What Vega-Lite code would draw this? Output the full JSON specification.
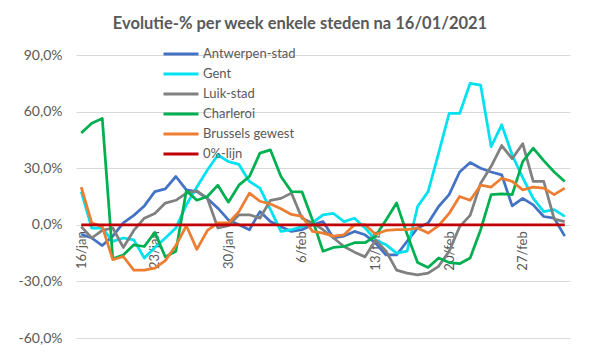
{
  "$schema": "https://vega.github.io/schema/vega-lite/v6.json",
  "width": 494,
  "height": 283,
  "autosize": {"type": "none"},
  "padding": {"left": 76, "top": 55, "right": 29, "bottom": 21},
  "background": "white",
  "title": {
    "text": "Evolutie-% per week enkele steden na 16/01/2021",
    "font": "Lato",
    "fontSize": 16.5,
    "fontWeight": "bold",
    "color": "#595959",
    "anchor": "middle",
    "dx": -23,
    "offset": 12
  },
  "data": {
    "values": [
      {"d": "2021-01-16", "Antwerpen-stad": -5, "Gent": 17.6, "Luik-stad": -1, "Charleroi": 48.7, "Brussels gewest": 20, "0%-lijn": 0},
      {"d": "2021-01-17", "Antwerpen-stad": -7, "Gent": -1.7, "Luik-stad": -7, "Charleroi": 53.8, "Brussels gewest": 1, "0%-lijn": 0},
      {"d": "2021-01-18", "Antwerpen-stad": -11, "Gent": -1.7, "Luik-stad": -3, "Charleroi": 56.4, "Brussels gewest": -1, "0%-lijn": 0},
      {"d": "2021-01-19", "Antwerpen-stad": -6, "Gent": -8.8, "Luik-stad": -1.7, "Charleroi": -18, "Brussels gewest": -18.5, "0%-lijn": 0},
      {"d": "2021-01-20", "Antwerpen-stad": 1, "Gent": -7, "Luik-stad": -12, "Charleroi": -16, "Brussels gewest": -16.8, "0%-lijn": 0},
      {"d": "2021-01-21", "Antwerpen-stad": 5, "Gent": -8, "Luik-stad": -3, "Charleroi": -10.6, "Brussels gewest": -24, "0%-lijn": 0},
      {"d": "2021-01-22", "Antwerpen-stad": 10, "Gent": -17.6, "Luik-stad": 3.5, "Charleroi": -11.5, "Brussels gewest": -24, "0%-lijn": 0},
      {"d": "2021-01-23", "Antwerpen-stad": 17.6, "Gent": -12, "Luik-stad": 6, "Charleroi": -4, "Brussels gewest": -23, "0%-lijn": 0},
      {"d": "2021-01-24", "Antwerpen-stad": 19, "Gent": -7, "Luik-stad": 11.5, "Charleroi": -17, "Brussels gewest": -19, "0%-lijn": 0},
      {"d": "2021-01-25", "Antwerpen-stad": 25.6, "Gent": -1.7, "Luik-stad": 13, "Charleroi": -14, "Brussels gewest": -11, "0%-lijn": 0},
      {"d": "2021-01-26", "Antwerpen-stad": 18.5, "Gent": 10.6, "Luik-stad": 16.8, "Charleroi": 18, "Brussels gewest": -0.5, "0%-lijn": 0},
      {"d": "2021-01-27", "Antwerpen-stad": 17.6, "Gent": 20, "Luik-stad": 18, "Charleroi": 13, "Brussels gewest": -13, "0%-lijn": 0},
      {"d": "2021-01-28", "Antwerpen-stad": 14, "Gent": 29, "Luik-stad": 14, "Charleroi": 15, "Brussels gewest": -3, "0%-lijn": 0},
      {"d": "2021-01-29", "Antwerpen-stad": 8.8, "Gent": 37, "Luik-stad": -1.7, "Charleroi": 21, "Brussels gewest": 1, "0%-lijn": 0},
      {"d": "2021-01-30", "Antwerpen-stad": 2.6, "Gent": 33.5, "Luik-stad": -0.5, "Charleroi": 12, "Brussels gewest": 1, "0%-lijn": 0},
      {"d": "2021-01-31", "Antwerpen-stad": 0, "Gent": 32, "Luik-stad": 5.3, "Charleroi": 21, "Brussels gewest": 7, "0%-lijn": 0},
      {"d": "2021-02-01", "Antwerpen-stad": -2.6, "Gent": 23, "Luik-stad": 5.3, "Charleroi": 25.6, "Brussels gewest": 16.8, "0%-lijn": 0},
      {"d": "2021-02-02", "Antwerpen-stad": 7, "Gent": 19.4, "Luik-stad": 3.5, "Charleroi": 38, "Brussels gewest": 12.5, "0%-lijn": 0},
      {"d": "2021-02-03", "Antwerpen-stad": 1.7, "Gent": 8, "Luik-stad": 13, "Charleroi": 39.7, "Brussels gewest": 11, "0%-lijn": 0},
      {"d": "2021-02-04", "Antwerpen-stad": -1, "Gent": -3.5, "Luik-stad": 14, "Charleroi": 25.6, "Brussels gewest": 8.5, "0%-lijn": 0},
      {"d": "2021-02-05", "Antwerpen-stad": -3.5, "Gent": -2.6, "Luik-stad": 16.8, "Charleroi": 17.6, "Brussels gewest": 5.5, "0%-lijn": 0},
      {"d": "2021-02-06", "Antwerpen-stad": -2.6, "Gent": -1, "Luik-stad": 3.5, "Charleroi": 17.5, "Brussels gewest": 4.5, "0%-lijn": 0},
      {"d": "2021-02-07", "Antwerpen-stad": 0, "Gent": 1, "Luik-stad": 1, "Charleroi": 2.6, "Brussels gewest": -3.5, "0%-lijn": 0},
      {"d": "2021-02-08", "Antwerpen-stad": 1.7, "Gent": 5.3, "Luik-stad": -2.6, "Charleroi": -14, "Brussels gewest": -4.4, "0%-lijn": 0},
      {"d": "2021-02-09", "Antwerpen-stad": -7, "Gent": 6, "Luik-stad": -7, "Charleroi": -12, "Brussels gewest": -6, "0%-lijn": 0},
      {"d": "2021-02-10", "Antwerpen-stad": -6, "Gent": 1.7, "Luik-stad": -11.5, "Charleroi": -11.5, "Brussels gewest": -5.3, "0%-lijn": 0},
      {"d": "2021-02-11", "Antwerpen-stad": -3.5, "Gent": 3.5, "Luik-stad": -14.5, "Charleroi": -9.5, "Brussels gewest": 0, "0%-lijn": 0},
      {"d": "2021-02-12", "Antwerpen-stad": -5.3, "Gent": -1.7, "Luik-stad": -17, "Charleroi": -9.5, "Brussels gewest": 0, "0%-lijn": 0},
      {"d": "2021-02-13", "Antwerpen-stad": -9.7, "Gent": -8, "Luik-stad": -8, "Charleroi": -6, "Brussels gewest": -5, "0%-lijn": 0},
      {"d": "2021-02-14", "Antwerpen-stad": -16, "Gent": -10.6, "Luik-stad": -14, "Charleroi": 2.6, "Brussels gewest": -3, "0%-lijn": 0},
      {"d": "2021-02-15", "Antwerpen-stad": -16, "Gent": -15, "Luik-stad": -24, "Charleroi": 11.6, "Brussels gewest": -2.6, "0%-lijn": 0},
      {"d": "2021-02-16", "Antwerpen-stad": -8.8, "Gent": -14, "Luik-stad": -25.6, "Charleroi": -5, "Brussels gewest": -2.5, "0%-lijn": 0},
      {"d": "2021-02-17", "Antwerpen-stad": -1.7, "Gent": 9.7, "Luik-stad": -26.5, "Charleroi": -20, "Brussels gewest": -1.7, "0%-lijn": 0},
      {"d": "2021-02-18", "Antwerpen-stad": 0.9, "Gent": 17.6, "Luik-stad": -25.6, "Charleroi": -22.6, "Brussels gewest": -4.4, "0%-lijn": 0},
      {"d": "2021-02-19", "Antwerpen-stad": 9.7, "Gent": 38, "Luik-stad": -22, "Charleroi": -17.6, "Brussels gewest": -0.5, "0%-lijn": 0},
      {"d": "2021-02-20", "Antwerpen-stad": 16, "Gent": 59, "Luik-stad": -14, "Charleroi": -20, "Brussels gewest": 6, "0%-lijn": 0},
      {"d": "2021-02-21", "Antwerpen-stad": 28, "Gent": 59, "Luik-stad": -1, "Charleroi": -20.6, "Brussels gewest": 15, "0%-lijn": 0},
      {"d": "2021-02-22", "Antwerpen-stad": 33, "Gent": 75, "Luik-stad": 5, "Charleroi": -17.6, "Brussels gewest": 13, "0%-lijn": 0},
      {"d": "2021-02-23", "Antwerpen-stad": 30, "Gent": 74, "Luik-stad": 22, "Charleroi": -2.6, "Brussels gewest": 21, "0%-lijn": 0},
      {"d": "2021-02-24", "Antwerpen-stad": 28, "Gent": 41.4, "Luik-stad": 31, "Charleroi": 16, "Brussels gewest": 20, "0%-lijn": 0},
      {"d": "2021-02-25", "Antwerpen-stad": 26.5, "Gent": 53, "Luik-stad": 42, "Charleroi": 16.4, "Brussels gewest": 24.7, "0%-lijn": 0},
      {"d": "2021-02-26", "Antwerpen-stad": 10, "Gent": 37, "Luik-stad": 35, "Charleroi": 16, "Brussels gewest": 23, "0%-lijn": 0},
      {"d": "2021-02-27", "Antwerpen-stad": 14, "Gent": 25, "Luik-stad": 43, "Charleroi": 33.5, "Brussels gewest": 18.5, "0%-lijn": 0},
      {"d": "2021-02-28", "Antwerpen-stad": 10.6, "Gent": 14, "Luik-stad": 23, "Charleroi": 40.6, "Brussels gewest": 20, "0%-lijn": 0},
      {"d": "2021-03-01", "Antwerpen-stad": 4.4, "Gent": 7, "Luik-stad": 23, "Charleroi": 34, "Brussels gewest": 19.4, "0%-lijn": 0},
      {"d": "2021-03-02", "Antwerpen-stad": 3.5, "Gent": 8, "Luik-stad": 3, "Charleroi": 28, "Brussels gewest": 16, "0%-lijn": 0},
      {"d": "2021-03-03", "Antwerpen-stad": -6, "Gent": 4.5, "Luik-stad": 1.7, "Charleroi": 23, "Brussels gewest": 19.4, "0%-lijn": 0}
    ]
  },
  "transform": [
    {"fold": ["Antwerpen-stad", "Gent", "Luik-stad", "Charleroi", "Brussels gewest", "0%-lijn"], "as": ["serie", "waarde"]}
  ],
  "mark": {"type": "line", "strokeWidth": 2.75, "strokeJoin": "round"},
  "encoding": {
    "x": {
      "field": "d",
      "type": "temporal",
      "scale": {
        "type": "utc",
        "domain": [
          {"year": 2021, "month": 1, "date": 15, "hours": 12, "utc": true},
          {"year": 2021, "month": 3, "date": 3, "hours": 12, "utc": true}
        ]
      },
      "axis": {
        "title": null,
        "values": [
          {"year": 2021, "month": 1, "date": 16, "utc": true},
          {"year": 2021, "month": 1, "date": 23, "utc": true},
          {"year": 2021, "month": 1, "date": 30, "utc": true},
          {"year": 2021, "month": 2, "date": 6, "utc": true},
          {"year": 2021, "month": 2, "date": 13, "utc": true},
          {"year": 2021, "month": 2, "date": 20, "utc": true},
          {"year": 2021, "month": 2, "date": 27, "utc": true}
        ],
        "labelExpr": "utcFormat(datum.value, '%-d') + '/' + lower(utcFormat(datum.value, '%b'))",
        "labelAngle": -90,
        "labelFont": "Lato",
        "labelFontSize": 13,
        "labelColor": "#595959",
        "labelPadding": 6,
        "offset": -113.2,
        "grid": false,
        "ticks": false,
        "domain": false
      }
    },
    "y": {
      "field": "waarde",
      "type": "quantitative",
      "scale": {"domain": [-60, 90], "nice": false, "zero": false},
      "axis": {
        "title": null,
        "values": [-60, -30, 0, 30, 60, 90],
        "labelExpr": "(datum.value < 0 ? '-' : '') + replace(format(abs(datum.value), '.1f'), '.', ',') + '%'",
        "labelFont": "Lato",
        "labelFontSize": 14,
        "labelColor": "#595959",
        "labelPadding": 14,
        "ticks": false,
        "domain": false,
        "gridColor": "#D9D9D9",
        "gridWidth": 1
      }
    },
    "color": {
      "field": "serie",
      "type": "nominal",
      "scale": {
        "domain": ["Antwerpen-stad", "Gent", "Luik-stad", "Charleroi", "Brussels gewest", "0%-lijn"],
        "range": ["#4472C4", "#00E1F0", "#808080", "#00B050", "#ED7D31", "#C00000"]
      },
      "legend": {
        "orient": "none",
        "legendX": 86,
        "legendY": -10.7,
        "title": null,
        "symbolType": "stroke",
        "symbolSize": 1225,
        "symbolStrokeWidth": 3,
        "labelFont": "Lato",
        "labelFontSize": 13,
        "labelColor": "#595959",
        "labelOffset": 3,
        "padding": 0,
        "rowPadding": 0,
        "clipHeight": 19.4
      }
    }
  },
  "config": {"view": {"stroke": null}}
}
